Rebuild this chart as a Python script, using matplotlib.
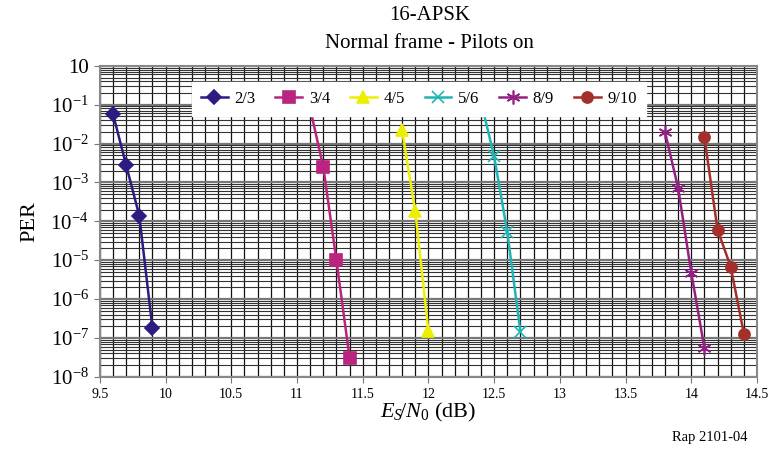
import numpy as np
import matplotlib
matplotlib.use('Agg')
import matplotlib.pyplot as plt
from matplotlib.ticker import FixedLocator, LogLocator, NullFormatter

plt.rcParams['font.family'] = ['Liberation Serif', 'DejaVu Serif']
plt.rcParams['mathtext.fontset'] = 'custom'
plt.rcParams['mathtext.rm'] = 'Liberation Serif'
plt.rcParams['mathtext.it'] = 'Liberation Serif:italic'

# PER vs Es/N0 (dB), 16-APSK normal frame, pilots on
labels = ['2/3', '3/4', '4/5', '5/6', '8/9', '9/10']
x_23 = [9.6, 9.7, 9.8, 9.9]
y_23 = [5.8e-2, 2.8e-3, 1.4e-4, 1.8e-7]
x_34 = [11.1, 11.2, 11.3, 11.4]
y_34 = [8e-2, 2.5e-3, 1.0e-5, 3.1e-8]
x_45 = [11.8, 11.9, 12.0]
y_45 = [2.2e-2, 1.8e-4, 1.5e-7]
x_56 = [12.4, 12.5, 12.6, 12.7]
y_56 = [1.2e-1, 4.7e-3, 5.4e-5, 1.45e-7]
x_89 = [13.8, 13.9, 14.0, 14.1]
y_89 = [2.0e-2, 7.2e-4, 4.8e-6, 5.5e-8]
x_910 = [14.1, 14.2, 14.3, 14.4]
y_910 = [1.45e-2, 6.1e-5, 6.8e-6, 1.3e-7]

xticks = [9.5, 10, 10.5, 11, 11.5, 12, 12.5, 13, 13.5, 14, 14.5]
ytick_labels = ['10'] + ['$10^{-%d}$' % k for k in range(1, 9)]

fig = plt.figure(figsize=(7.74, 4.54), dpi=100)
ax = fig.add_axes([0.129, 0.170, 0.849, 0.685])

series = [
    (x_23, y_23, '#2E1A80', 'D', 7),
    (x_34, y_34, '#B8247E', 's', 8),
    (x_45, y_45, '#EEEE00', '^', 9),
    (x_56, y_56, '#22B4B4', 'x', 9),
    (x_89, y_89, '#952084', (6, 2, 0), 10),
    (x_910, y_910, '#A3302B', 'o', 8),
]
for (xs, ys, c, m, ms), lab in zip(series, labels):
    ax.plot(xs, ys, color=c, lw=1.8, marker=m, ms=ms, mew=1.2,
            label=lab, zorder=3)

ax.set_yscale('log')
ax.set_xlim(9.5, 14.5)
ax.set_ylim(1e-8, 1)

ax.set_xticks(xticks)
ax.set_xticklabels([('%g' % v) for v in xticks], fontsize=10)
ax.xaxis.set_minor_locator(FixedLocator(np.arange(9.5, 14.51, 0.1)))
ax.set_yticks([10.0 ** -k for k in range(0, 9)])
ax.set_yticklabels(ytick_labels, fontsize=15)
ax.yaxis.set_minor_locator(LogLocator(base=10, subs=np.arange(2, 10)))
ax.yaxis.set_minor_formatter(NullFormatter())

ax.grid(True, which='major', axis='y', color='#777777', lw=1.6, zorder=0)
ax.grid(True, which='minor', axis='y', color='#333333', lw=0.8, zorder=0)
ax.grid(True, which='both', axis='x', color='#111111', lw=0.9, zorder=0)
ax.tick_params(axis='both', which='minor', length=0)
ax.tick_params(axis='both', which='major', length=4, color='#777777',
               pad=4)
for s in ax.spines.values():
    s.set_color('#888888')
    s.set_linewidth(1.5)

leg = ax.legend(loc='upper left', ncol=6, bbox_to_anchor=(0.14, 0.949),
                fontsize=12, frameon=True, fancybox=False,
                handlelength=1.6, handletextpad=0.4, columnspacing=1.2,
                borderpad=0.55, borderaxespad=0)
leg.get_frame().set_facecolor('white')
leg.get_frame().set_edgecolor('white')
leg.get_frame().set_alpha(1)
leg.set_zorder(5)

fig.text(0.555, 0.965, '16-APSK', ha='center', va='center', fontsize=15)
fig.text(0.555, 0.905, 'Normal frame - Pilots on', ha='center', va='center', fontsize=15)
ax.set_ylabel('PER', fontsize=16, labelpad=8)
fig.text(0.553, 0.092, '$E_S\\!/N_0$ (dB)', ha='center', va='center', fontsize=16)
fig.text(0.966, 0.037, 'Rap 2101-04', ha='right', va='center', fontsize=10.5)

plt.savefig('out.png', dpi=100)
